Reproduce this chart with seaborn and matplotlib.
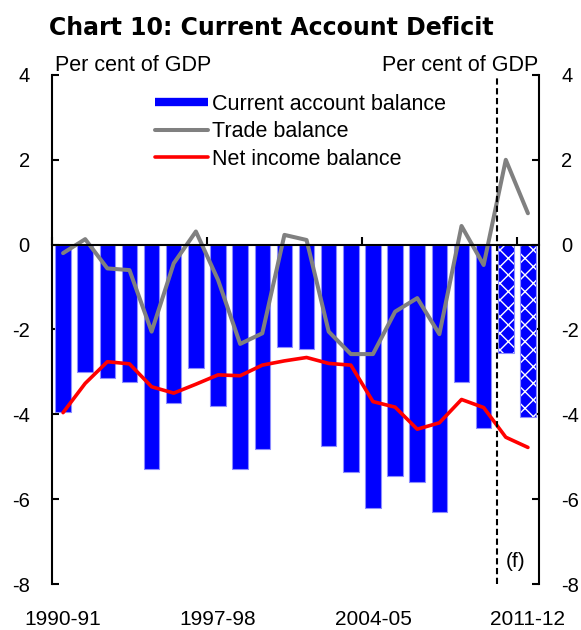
import numpy as np
import pandas as pd
import matplotlib
matplotlib.use("Agg")
import matplotlib.pyplot as plt
from matplotlib.lines import Line2D
from matplotlib.patches import Rectangle
from matplotlib.transforms import blended_transform_factory
import seaborn as sns

# Financial years and balances, per cent of GDP
years = ["1990-91", "1991-92", "1992-93", "1993-94", "1994-95", "1995-96",
         "1996-97", "1997-98", "1998-99", "1999-00", "2000-01", "2001-02",
         "2002-03", "2003-04", "2004-05", "2005-06", "2006-07", "2007-08",
         "2008-09", "2009-10", "2010-11", "2011-12"]
current_account = [-3.94, -3.00, -3.14, -3.23, -5.29, -3.73, -2.90, -3.80,
                   -5.29, -4.82, -2.42, -2.47, -4.75, -5.35, -6.20, -5.45,
                   -5.59, -6.30, -3.23, -4.32, -2.56, -4.06]
trade_balance = [-0.20, 0.13, -0.56, -0.60, -2.05, -0.44, 0.31, -0.83,
                 -2.34, -2.09, 0.23, 0.11, -2.05, -2.58, -2.58, -1.58,
                 -1.26, -2.11, 0.44, -0.48, 2.00, 0.74]
net_income = [-3.96, -3.27, -2.76, -2.81, -3.35, -3.50, -3.29, -3.07,
              -3.09, -2.84, -2.74, -2.66, -2.80, -2.84, -3.70, -3.83,
              -4.35, -4.20, -3.65, -3.84, -4.54, -4.78]
forecast_years = ["2010-11", "2011-12"]
label_years = ["1990-91", "1997-98", "2004-05", "2011-12"]
y_ticks = [-8, -6, -4, -2, 0, 2, 4]

BLUE = "#0000ff"
EDGE = "#8c8cff"
GREY = "#808080"
RED = "#ff0000"

sns.set_style("white")
plt.rcParams["font.family"] = ["Liberation Sans", "DejaVu Sans"]
plt.rcParams["text.color"] = "black"
plt.rcParams["hatch.linewidth"] = 1.0

df = pd.DataFrame({
    "year": years,
    "pos": np.arange(len(years)),
    "ca": current_account,
    "trade": trade_balance,
    "income": net_income,
})
df["kind"] = np.where(df["year"].isin(forecast_years), "forecast", "actual")

fig = plt.figure(figsize=(5.81, 6.30), dpi=100)
ax = fig.add_axes([0.0895, 0.073, 0.8382, 0.808])

sns.barplot(data=df, x="pos", y="ca", hue="kind",
            palette={"actual": BLUE, "forecast": BLUE}, saturation=1,
            dodge=False, width=0.7, edgecolor=EDGE, linewidth=0.8,
            legend=False, ax=ax, zorder=2)

# Forecast bars: white cross hatching, outlined afterwards
kinds = list(df["kind"])
for container in ax.containers:
    for bar in container:
        idx = int(round(bar.get_x() + bar.get_width() / 2))
        if 0 <= idx < len(kinds) and kinds[idx] == "forecast":
            bar.set_hatch("xx")
            bar.set_edgecolor("white")
            bar.set_linewidth(0)
            ax.add_patch(Rectangle((bar.get_x(), bar.get_y()),
                                   bar.get_width(), bar.get_height(),
                                   fill=False, edgecolor=EDGE,
                                   linewidth=0.8, zorder=2.1))

sns.lineplot(data=df, x="pos", y="trade", color=GREY, linewidth=2.9,
             ax=ax, zorder=3)
sns.lineplot(data=df, x="pos", y="income", color=RED, linewidth=2.6,
             ax=ax, zorder=3)

# Forecast divider
first_fc = years.index(forecast_years[0])
ax.axvline(first_fc - 0.4, color="black", linewidth=1.5,
           linestyle=(0, (3, 1.7)), zorder=4)
ax.text(first_fc + 0.46, -7.46, "(f)", fontsize=15, ha="center",
        va="center")

ax.set_xlim(-0.5, len(years) - 0.5)
ax.set_ylim(-8, 4)
ax.set_xlabel("")
ax.set_ylabel("")

# Axes frame: side spines, zero line carries the year ticks
ax.spines["top"].set_visible(False)
ax.spines["bottom"].set_position(("data", 0))
for side in ["left", "right", "bottom"]:
    ax.spines[side].set_visible(True)
    ax.spines[side].set_color("black")
    ax.spines[side].set_linewidth(1.5)
ax.spines["bottom"].set_zorder(5)

ax.set_yticks(y_ticks)
ax.set_yticklabels([str(v) for v in y_ticks])
ax.tick_params(axis="y", which="both", left=True, right=True,
               labelleft=True, labelright=True, direction="in",
               length=5, width=1.5, pad=16, labelsize=14.5, colors="black")

tick_pos = [years.index(y) - 0.5 for y in label_years]
ax.set_xticks(tick_pos)
ax.tick_params(axis="x", bottom=True, direction="in", length=6, width=1.5,
               labelbottom=False, colors="black")

trans = blended_transform_factory(ax.transData, fig.transFigure)
for y in label_years:
    ax.text(years.index(y), 5.0 / 630, y, transform=trans, fontsize=15,
            ha="center", va="baseline")

legend_handles = [
    Line2D([], [], color=BLUE, linewidth=6, solid_capstyle="butt"),
    Line2D([], [], color=GREY, linewidth=2.9),
    Line2D([], [], color=RED, linewidth=2.6),
]
fig.legend(legend_handles,
           ["Current account balance", "Trade balance", "Net income balance"],
           loc="upper left", bbox_to_anchor=(155 / 581, 1 - 94 / 630),
           frameon=False, fontsize=15.5, handlelength=2.45,
           handletextpad=0.2, labelspacing=0.3, borderpad=0,
           borderaxespad=0)

fig.text(49 / 581, 1 - 35 / 630, "Chart 10: Current Account Deficit",
         fontsize=17, fontweight="bold", family="DejaVu Sans",
         ha="left", va="baseline")
fig.text(55 / 581, 1 - 71 / 630, "Per cent of GDP", fontsize=15.5,
         ha="left", va="baseline")
fig.text(538 / 581, 1 - 71 / 630, "Per cent of GDP", fontsize=15.5,
         ha="right", va="baseline")

fig.savefig("out.png", dpi=100)
